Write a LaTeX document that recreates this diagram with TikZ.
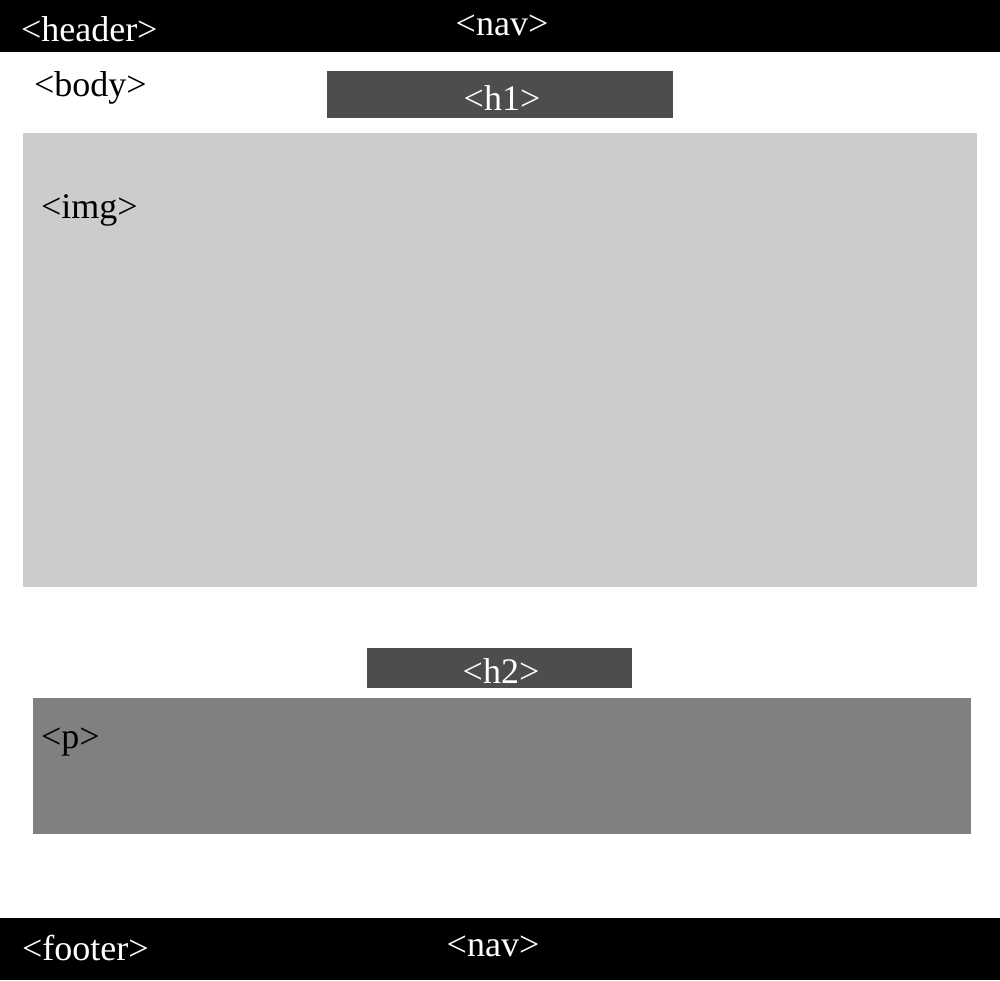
\documentclass[tikz,border=0pt]{standalone}
\usepackage{fontspec}
\setmainfont{Liberation Serif}
\definecolor{darkbox}{HTML}{4D4D4D}
\definecolor{lightbox}{HTML}{CCCCCC}
\definecolor{midbox}{HTML}{808080}
\begin{document}
\begin{tikzpicture}[x=1pt,y=-1pt,
  blk/.style={draw=none,inner sep=0pt,outer sep=0pt,anchor=north west},
  lbl/.style={inner sep=0pt,outer sep=0pt,font=\fontsize{36}{36}\selectfont},
  lblw/.style={lbl,text=white}]
\useasboundingbox[fill=white] (0,0) rectangle (1000,980);
% header
\node[blk,fill=black,minimum width=1000pt,minimum height=52pt] (header) at (0,0) {};
\node[lblw,anchor=base west] (headert) at (21,41) {<header>};
\node[lblw,anchor=base] (nav1) at (502,35) {<nav>};
% body
\node[lbl,anchor=base west] (bodyt) at (34,96) {<body>};
% h1
\node[blk,fill=darkbox,minimum width=346pt,minimum height=47pt] (h1) at (327,71) {};
\node[lblw,anchor=base] (h1t) at (502,110) {<h1>};
% img
\node[blk,fill=lightbox,minimum width=954pt,minimum height=454pt] (img) at (23,133) {};
\node[lbl,anchor=base west] (imgt) at (41,218) {<img>};
% h2
\node[blk,fill=darkbox,minimum width=265pt,minimum height=40pt] (h2) at (367,648) {};
\node[lblw,anchor=base] (h2t) at (501,683) {<h2>};
% p
\node[blk,fill=midbox,minimum width=938pt,minimum height=136pt] (p) at (33,698) {};
\node[lbl,anchor=base west] (pt) at (41,748) {<p>};
% footer
\node[blk,fill=black,minimum width=1000pt,minimum height=62pt] (footer) at (0,918) {};
\node[lblw,anchor=base west] (footert) at (22,960) {<footer>};
\node[lblw,anchor=base] (nav2) at (493,956) {<nav>};
\end{tikzpicture}
\end{document}
